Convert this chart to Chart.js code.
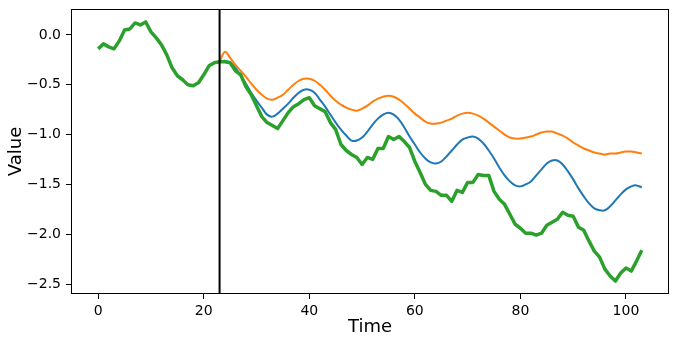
<!DOCTYPE html>
<html>
<head>
<meta charset="utf-8">
<script src="https://cdn.jsdelivr.net/npm/chart.js@4.4.0/dist/chart.umd.min.js"></script>
<style>
  html, body { margin: 0; padding: 0; background: #fff; }
  #wrap { width: 675px; height: 340px; }
</style>
</head>
<body>
<div id="wrap"><canvas id="chart" width="675" height="340"></canvas></div>
<script>
// observed series, one value per time step (0..103)
const observed = [
  -0.14, -0.09, -0.12, -0.14, -0.06, 0.05, 0.06, 0.12, 0.10, 0.13,
  0.03, -0.03, -0.10, -0.20, -0.33, -0.41, -0.45, -0.50, -0.51, -0.48,
  -0.40, -0.31, -0.28, -0.27, -0.27, -0.28, -0.36, -0.40, -0.52, -0.60,
  -0.71, -0.82, -0.88, -0.91, -0.94, -0.86, -0.78, -0.72, -0.69, -0.65,
  -0.63, -0.71, -0.74, -0.77, -0.88, -0.95, -1.10, -1.16, -1.20, -1.23,
  -1.30, -1.23, -1.25, -1.14, -1.14, -1.02, -1.05, -1.02, -1.07, -1.13,
  -1.27, -1.38, -1.50, -1.56, -1.57, -1.61, -1.61, -1.67, -1.56, -1.58,
  -1.48, -1.48, -1.40, -1.41, -1.41, -1.57, -1.65, -1.70, -1.80, -1.90,
  -1.94, -1.99, -1.99, -2.01, -1.99, -1.91, -1.88, -1.85, -1.78, -1.81,
  -1.82, -1.93, -1.96, -2.07, -2.17, -2.23, -2.35, -2.42, -2.47, -2.39,
  -2.34, -2.37, -2.27, -2.16
];

// forecasts start at the split point (t = 23)
const splitTime = 23;

const forecastOrange = [
  -0.27, -0.17, -0.23, -0.30, -0.36, -0.42, -0.49, -0.55, -0.60, -0.64,
  -0.65, -0.63, -0.60, -0.55, -0.50, -0.46, -0.44, -0.44, -0.46, -0.50,
  -0.55, -0.61, -0.66, -0.70, -0.73, -0.75, -0.76, -0.74, -0.71, -0.67,
  -0.64, -0.62, -0.61, -0.62, -0.65, -0.69, -0.74, -0.79, -0.83, -0.87,
  -0.89, -0.89, -0.88, -0.86, -0.84, -0.81, -0.79, -0.78, -0.79, -0.81,
  -0.84, -0.88, -0.92, -0.96, -1.00, -1.03, -1.04, -1.04, -1.03, -1.02,
  -1.00, -0.98, -0.97, -0.97, -0.99, -1.01, -1.04, -1.08, -1.11, -1.14,
  -1.16, -1.18, -1.19, -1.20, -1.19, -1.19, -1.18, -1.17, -1.17, -1.18,
  -1.19
];

const forecastBlue = [
  -0.27, -0.26, -0.28, -0.33, -0.41, -0.49, -0.58, -0.66, -0.73, -0.80,
  -0.82, -0.79, -0.74, -0.69, -0.63, -0.58, -0.55, -0.55, -0.58, -0.65,
  -0.72, -0.80, -0.88, -0.95, -1.01, -1.06, -1.06, -1.03, -0.97, -0.90,
  -0.84, -0.80, -0.78, -0.80, -0.85, -0.93, -1.02, -1.10, -1.18, -1.24,
  -1.28, -1.29, -1.27, -1.22, -1.16, -1.10, -1.05, -1.03, -1.02, -1.04,
  -1.09, -1.16, -1.24, -1.33, -1.41, -1.47, -1.51, -1.52, -1.50, -1.47,
  -1.41, -1.35, -1.29, -1.26, -1.26, -1.30, -1.37, -1.45, -1.54, -1.62,
  -1.69, -1.74, -1.76, -1.76, -1.72, -1.66, -1.60, -1.55, -1.52, -1.51,
  -1.53
];

const xTicks = [0, 20, 40, 60, 80, 100];
const yTicks = [-2.5, -2.0, -1.5, -1.0, -0.5, 0.0];

const X_MIN = -5.15, X_MAX = 108.15;
const Y_MIN = -2.6, Y_MAX = 0.26;

const toPoints = (arr, start) => arr.map((v, i) => ({ x: start + i, y: v }));

const tickFont = { family: 'DejaVu Sans', size: 14 };
const titleFont = { family: 'DejaVu Sans', size: 18 };

// matplotlib style full frame around the plot
const frame = {
  id: 'frame',
  afterDatasetsDraw(chart) {
    const { ctx, chartArea: a } = chart;
    ctx.save();
    ctx.strokeStyle = '#000';
    ctx.lineWidth = 1;
    ctx.strokeRect(Math.round(a.left) + 0.5, Math.round(a.top) + 0.5,
      Math.round(a.right - a.left) - 1, Math.round(a.bottom - a.top) - 1);
    ctx.restore();
  }
};

new Chart(document.getElementById('chart'), {
  type: 'line',
  data: {
    datasets: [
      {
        data: [{ x: splitTime, y: Y_MIN }, { x: splitTime, y: Y_MAX }],
        borderColor: '#000',
        borderWidth: 2,
        pointRadius: 0,
        order: 0
      },
      {
        data: toPoints(observed, 0),
        borderColor: '#2ca02c',
        borderWidth: 3.5,
        pointRadius: 0,
        borderJoinStyle: 'round',
        order: 1
      },
      {
        data: toPoints(forecastBlue, splitTime),
        borderColor: '#1f77b4',
        borderWidth: 2,
        pointRadius: 0,
        tension: 0.4,
        order: 2
      },
      {
        data: toPoints(forecastOrange, splitTime),
        borderColor: '#ff7f0e',
        borderWidth: 2,
        pointRadius: 0,
        tension: 0.4,
        order: 3
      }
    ]
  },
  options: {
    responsive: false,
    animation: false,
    devicePixelRatio: 1,
    layout: { padding: { top: 9, right: 6, left: 0, bottom: 0 } },
    plugins: { legend: { display: false }, tooltip: { enabled: false } },
    scales: {
      x: {
        type: 'linear',
        min: X_MIN,
        max: X_MAX,
        afterBuildTicks: s => { s.ticks = xTicks.map(v => ({ value: v })); },
        afterFit: s => { s.height = 46; s.paddingLeft = 0; s.paddingRight = 0; },
        ticks: {
          color: '#000',
          font: tickFont,
          padding: 4,
          maxRotation: 0,
          autoSkip: false,
          callback: v => String(v)
        },
        grid: { drawOnChartArea: false, tickLength: 5, color: '#000' },
        border: { display: false },
        title: { display: true, text: 'Time', color: '#000', font: titleFont, padding: { top: 0, bottom: 2 } }
      },
      y: {
        min: Y_MIN,
        max: Y_MAX,
        afterBuildTicks: s => { s.ticks = yTicks.map(v => ({ value: v })); },
        afterFit: s => { s.width = 71; s.paddingTop = 0; s.paddingBottom = 0; },
        ticks: {
          color: '#000',
          font: tickFont,
          padding: 5,
          autoSkip: false,
          callback: v => v.toFixed(1).replace('-', '\u2212')
        },
        grid: { drawOnChartArea: false, tickLength: 5, color: '#000' },
        border: { display: false },
        title: { display: true, text: 'Value', color: '#000', font: titleFont, padding: { top: 6, bottom: 0 } }
      }
    }
  },
  plugins: [frame]
});
</script>
</body>
</html>
